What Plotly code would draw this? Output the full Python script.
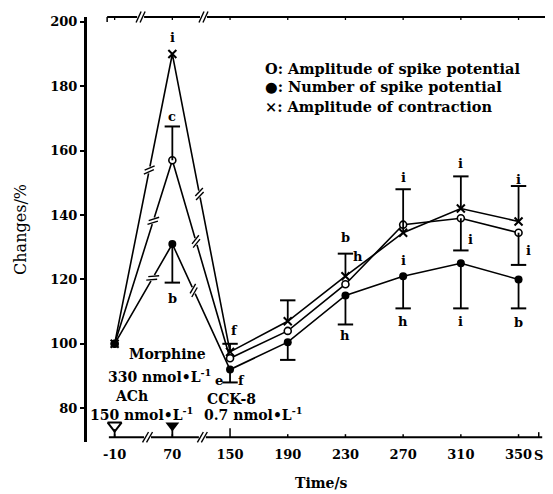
import math
import plotly.graph_objects as go

# ---------------- data ----------------
time_labels = ["-10", "70", "150", "190", "230", "270", "310", "350"]
amp_spike = [100, 157, 95.5, 104, 118.5, 137, 139, 134.5]          # O
num_spike = [100, 131, 92, 100.5, 115, 121, 125, 120]              # ●
amp_contraction = [100, 190, 97.5, 107, 121, 134.5, 142, 138]      # ×

amp_spike_err_up = [0, 10.5, 0, 0, 0, 0, 0, 0]
amp_spike_err_down = [0, 0, 0, 0, 0, 0, 10, 10]
num_spike_err_up = [0, 0, 0, 0, 0, 0, 0, 0]
num_spike_err_down = [0, 12, 4, 5.5, 9, 10, 14, 9]
contr_err_up = [0, 0, 2.5, 6.5, 7, 13.5, 10, 11]
contr_err_down = [0, 0, 0, 0, 0, 0, 0, 0]

y_ticks = [80, 100, 120, 140, 160, 180, 200]
drug_times = ["-10", "70"]

# significance letters: (time, value, letter, xshift)
sig_labels = [
    ("70", 195, "i", 0), ("70", 170.5, "c", 0), ("70", 114, "b", 0),
    ("150", 104, "f", 4), ("150", 88.5, "e", -11), ("150", 88.5, "f", 11),
    ("230", 133, "b", 0), ("230", 127, "h", 13), ("230", 102.5, "h", 0),
    ("270", 151.5, "i", 0), ("270", 126, "i", 0), ("270", 107, "h", 0),
    ("310", 156, "i", 0), ("310", 132.5, "i", 10), ("310", 107, "i", 0),
    ("350", 151, "i", 0), ("350", 129, "i", 10), ("350", 106.5, "b", 0),
]

# ---------------- geometry ----------------
OFF = 8                      # page body margin
W, H = 553 - OFF, 494 - OFF
ML, MR, MT, MB = 79, 3, 9, 52
PW, PH = W - ML - MR, H - MT - MB
XR = [-0.479, 7.493]
YR = [69.5, 201.5]
AXIS_Y = 71
x_idx = list(range(len(time_labels)))
pos = {t: i for i, t in enumerate(time_labels)}

SERIF = "DejaVu Serif"
shapes = []


def to_px(x, y):
    """data -> window pixel coordinates"""
    return (OFF + ML + (x - XR[0]) / (XR[1] - XR[0]) * PW,
            OFF + MT + (YR[1] - y) / (YR[1] - YR[0]) * PH)


def to_paper(p):
    return (p[0] - OFF - ML) / PW, (OFF + MT + PH - p[1]) / PH


def seg(p0, p1, color="black", width=1.6):
    a, b = to_paper(p0), to_paper(p1)
    shapes.append(dict(type="line", xref="paper", yref="paper",
                       x0=a[0], y0=a[1], x1=b[0], y1=b[1],
                       line=dict(color=color, width=width)))


def break_mark(p, u, ang=35, half=5.5, gap=2.0):
    ux, uy = u
    nx, ny = -uy, ux
    ca, sa = math.cos(math.radians(ang)), math.sin(math.radians(ang))
    dx, dy = ca * nx + sa * ux, ca * ny + sa * uy
    seg((p[0] - ux * 3.5, p[1] - uy * 3.5), (p[0] + ux * 3.5, p[1] + uy * 3.5), "white", 4)
    for s in (-gap, gap):
        cx, cy = p[0] + ux * s, p[1] + uy * s
        seg((cx - dx * half, cy - dy * half), (cx + dx * half, cy + dy * half), "black", 1.4)


def line_break(vals, i, f):
    p0 = to_px(x_idx[i], vals[i])
    p1 = to_px(x_idx[i + 1], vals[i + 1])
    L = math.hypot(p1[0] - p0[0], p1[1] - p0[1])
    u = ((p1[0] - p0[0]) / L, (p1[1] - p0[1]) / L)
    p = (p0[0] + (p1[0] - p0[0]) * f, p0[1] + (p1[1] - p0[1]) * f)
    break_mark(p, u)


fig = go.Figure()

series = [
    (amp_contraction, dict(symbol="x-thin", size=8, color="black", line=dict(color="black", width=2))),
    (amp_spike, dict(symbol="circle", size=7, color="white", line=dict(color="black", width=1.6))),
    (num_spike, dict(symbol="circle", size=8, color="black", line=dict(color="black", width=0))),
]
for vals, mk in series:
    fig.add_trace(go.Scatter(x=x_idx, y=vals, mode="lines+markers",
                             line=dict(color="black", width=1.6), marker=mk,
                             showlegend=False, hoverinfo="skip"))

# error bars (stems + caps) built from the data
for vals, up, down in [(amp_contraction, contr_err_up, contr_err_down),
                       (amp_spike, amp_spike_err_up, amp_spike_err_down),
                       (num_spike, num_spike_err_up, num_spike_err_down)]:
    sx, sy, cx, cy = [], [], [], []
    for i, (v, u, d) in enumerate(zip(vals, up, down)):
        if u > 0:
            sx += [i, i, None]; sy += [v, v + u, None]; cx.append(i); cy.append(v + u)
        if d > 0:
            sx += [i, i, None]; sy += [v, v - d, None]; cx.append(i); cy.append(v - d)
    fig.add_trace(go.Scatter(x=sx, y=sy, mode="lines", line=dict(color="black", width=1.8),
                             showlegend=False, hoverinfo="skip"))
    fig.add_trace(go.Scatter(x=cx, y=cy, mode="markers",
                             marker=dict(symbol="line-ew", size=11, color="black",
                                         line=dict(color="black", width=2)),
                             showlegend=False, hoverinfo="skip"))

# drug administration triangles
fig.add_trace(go.Scatter(x=[pos[drug_times[0]]], y=[74.6], mode="markers",
                         marker=dict(symbol="triangle-down-open", size=12, color="black",
                                     line=dict(color="black", width=2)),
                         showlegend=False, hoverinfo="skip"))
fig.add_trace(go.Scatter(x=[pos[drug_times[1]]], y=[74.6], mode="markers",
                         marker=dict(symbol="triangle-down", size=12, color="black"),
                         showlegend=False, hoverinfo="skip"))
for t in drug_times:
    seg(to_px(pos[t], AXIS_Y), to_px(pos[t], 73.5), "black", 1.8)

# right-side tick marks
fig.add_trace(go.Scatter(x=[None], y=[None], yaxis="y2", showlegend=False))

# line breaks on the series
for vals, fu, fd in [(amp_contraction, 0.60, 0.47), (amp_spike, 0.67, 0.41), (num_spike, 0.66, 0.37)]:
    line_break(vals, 0, fu)
    line_break(vals, 1, fd)

# bottom axis line, ticks, breaks
seg(to_px(-0.1, AXIS_Y), to_px(7.41, AXIS_Y), "black", 2)
for i in x_idx:
    p = to_px(i, AXIS_Y)
    seg(p, (p[0], p[1] - (9 if time_labels[i] == "150" else 3)), "black", 1.5)
pe = to_px(7.35, AXIS_Y)
seg(pe, (pe[0], pe[1] - 5), "black", 1.5)
for xb in (0.57, 1.52):
    break_mark(to_px(xb, AXIS_Y), (1, 0), ang=-30, half=6)

# top axis line, ticks, breaks
pt0 = to_px(-0.13, YR[1])
seg(pt0, (W + OFF + 5, pt0[1]), "black", 2)
seg(pt0, (pt0[0], pt0[1] + 5), "black", 1.5)
for i in x_idx:
    p = to_px(i, YR[1])
    seg(p, (p[0], p[1] + 3), "black", 1.3)
for xb in (0.45, 1.54):
    break_mark(to_px(xb, YR[1]), (1, 0), ang=-25, half=6)

ann = []
for t, v, txt, xs in sig_labels:
    ann.append(dict(x=pos[t], y=v, text=txt, xshift=xs, showarrow=False,
                    font=dict(family=SERIF, size=13, color="black", weight="bold")))

drug_text = [
    (0.916, 96.9, "Morphine"),
    (0.78, 90.0, "330 nmol•L<sup>-1</sup>"),
    (0.30, 83.9, "ACh"),
    (0.47, 78.3, "150 nmol•L<sup>-1</sup>"),
    (2.02, 82.9, "CCK-8"),
    (2.40, 78.3, "0.7 nmol•L<sup>-1</sup>"),
]
for x, y, txt in drug_text:
    ann.append(dict(x=x, y=y, text=txt, showarrow=False,
                    font=dict(family=SERIF, size=14, color="black", weight="bold")))

legend_lines = ["O: Amplitude of spike potential", "●: Number of spike potential",
                "×: Amplitude of contraction"]


def win_paper(px, py):
    return to_paper((px, py))


for k, txt in enumerate(legend_lines):
    lx, ly = win_paper(264, 68 + 19 * k)
    ann.append(dict(xref="paper", yref="paper", x=lx, y=ly,
                    xanchor="left", yanchor="middle", text=txt, showarrow=False,
                    font=dict(family=SERIF, size=14.5, color="black", weight="bold")))

_, sy_ = win_paper(0, 455)
ann.append(dict(x=pos["350"], xshift=20, yref="paper", y=sy_, yanchor="middle", text="S",
                showarrow=False, font=dict(family=SERIF, size=13, color="black", weight="bold")))
tx, ty = win_paper(323, 483)
ann.append(dict(xref="paper", yref="paper", x=tx, y=ty, xanchor="center", yanchor="middle",
                text="Time/s", showarrow=False,
                font=dict(family=SERIF, size=14, color="black", weight="bold")))
cx_, _ = win_paper(20, 0)
ann.append(dict(xref="paper", yref="paper", x=cx_, y=0.5, xanchor="center", yanchor="middle",
                text="Changes/%", textangle=-90, showarrow=False,
                font=dict(family=SERIF, size=16, color="black")))

fig.update_layout(
    width=W, height=H, margin=dict(l=ML, r=MR, t=MT, b=MB),
    paper_bgcolor="white", plot_bgcolor="white", showlegend=False,
    xaxis=dict(range=XR, tickvals=x_idx, ticktext=time_labels, showline=False, ticks="",
               showgrid=False, zeroline=False, ticklabelstandoff=3,
               tickfont=dict(family=SERIF, size=13, color="black", weight="bold")),
    yaxis=dict(range=YR, tickvals=y_ticks, showline=True, linewidth=3, linecolor="black",
               ticks="outside", ticklen=4, tickwidth=2, tickcolor="black",
               showgrid=False, zeroline=False,
               tickfont=dict(family=SERIF, size=13, color="black", weight="bold")),
    yaxis2=dict(range=YR, overlaying="y", side="right", tickvals=y_ticks, showticklabels=False,
                ticks="outside", ticklen=3, tickwidth=1.5, tickcolor="black",
                showline=False, showgrid=False, zeroline=False),
    shapes=shapes, annotations=ann,
)

fig.write_html("out.html")
